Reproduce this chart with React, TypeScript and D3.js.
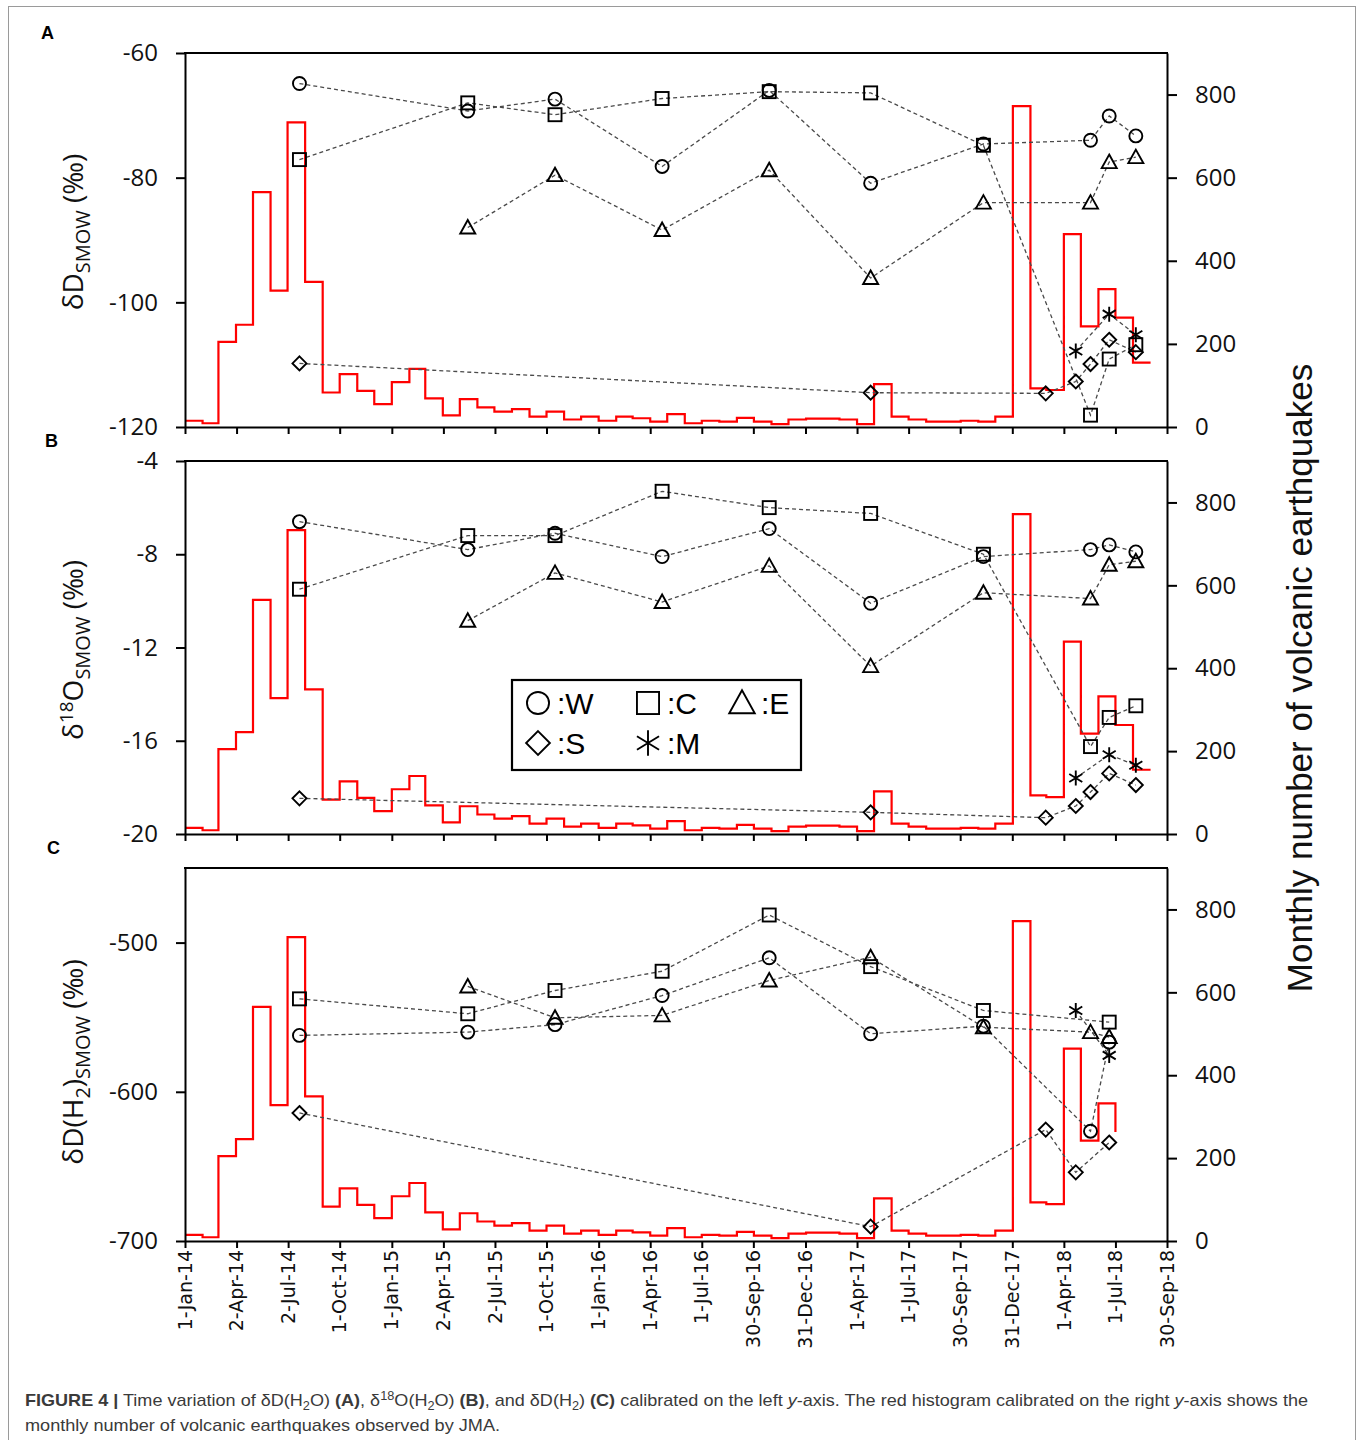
import React, { useRef, useEffect } from 'react';
import * as d3 from 'd3';

// monthly number of volcanic earthquakes (JMA), Jan 2014 .. Aug 2018
const quakeCounts = [
  15, 9, 205, 246, 565, 328, 733, 349, 83, 127, 87, 55,
  108, 140, 69, 28, 67, 47, 37, 43, 25, 37, 18, 25,
  15, 25, 21, 13, 31, 9, 15, 13, 22, 13, 7, 18,
  20, 20, 18, 7, 103, 25, 18, 13, 13, 15, 13, 25,
  772, 93, 89, 464, 242, 332, 263, 155,
];

const tickDates = [
  '2014-01-01', '2014-04-02', '2014-07-02', '2014-10-01', '2015-01-01', '2015-04-02', '2015-07-02',
  '2015-10-01', '2016-01-01', '2016-04-01', '2016-07-01', '2016-09-30', '2016-12-31', '2017-04-01',
  '2017-07-01', '2017-09-30', '2017-12-31', '2018-04-01', '2018-07-01', '2018-09-30',
];
const tickLabels = [
  '1-Jan-14', '2-Apr-14', '2-Jul-14', '1-Oct-14', '1-Jan-15', '2-Apr-15', '2-Jul-15',
  '1-Oct-15', '1-Jan-16', '1-Apr-16', '1-Jul-16', '30-Sep-16', '31-Dec-16', '1-Apr-17',
  '1-Jul-17', '30-Sep-17', '31-Dec-17', '1-Apr-18', '1-Jul-18', '30-Sep-18',
];

// sampling dates per site
const datesW = ['2014-07-22', '2015-05-15', '2015-10-16', '2016-04-22', '2016-10-28', '2017-04-25', '2017-11-10', '2018-05-18', '2018-06-20', '2018-08-06'];
const datesE = ['2015-05-15', '2015-10-16', '2016-04-22', '2016-10-28', '2017-04-25', '2017-11-10', '2018-05-18', '2018-06-20', '2018-08-06'];
const datesS = ['2014-07-22', '2017-04-25', '2018-02-28', '2018-04-22', '2018-05-18', '2018-06-20', '2018-08-06'];
const datesM = ['2018-04-22', '2018-06-20', '2018-08-06'];

// (A) dD(H2O)
const dDW = [-64.9, -69.3, -67.4, -78.2, -66.0, -80.9, -74.6, -74.0, -70.1, -73.3];
const dDC = [-77.1, -68.0, -69.9, -67.3, -66.2, -66.4, -74.8, -118.1, -109.1, -106.8];
const dDE = [-88.0, -79.6, -88.4, -78.8, -96.1, -84.0, -84.0, -77.5, -76.7];
const dDS = [-109.8, -114.5, -114.6, -112.7, -109.9, -106.0, -108.0];
const dDM = [-107.8, -101.9, -105.2];

// (B) d18O(H2O)
const d18W = [-6.6, -7.8, -7.1, -8.1, -6.9, -10.1, -8.1, -7.8, -7.6, -7.9];
const d18C = [-9.5, -7.2, -7.2, -5.3, -6.0, -6.25, -8.0, -16.25, -15.0, -14.5];
const d18E = [-10.85, -8.8, -10.05, -8.5, -12.8, -9.65, -9.9, -8.45, -8.3];
const d18S = [-18.47, -19.07, -19.3, -18.8, -18.2, -17.4, -17.9];
const d18M = [-17.6, -16.6, -17.05];

// (C) dD(H2)
const h2DatesW = ['2014-07-22', '2015-05-15', '2015-10-16', '2016-04-22', '2016-10-28', '2017-04-25', '2017-11-10', '2018-05-18', '2018-06-20'];
const h2DatesC = ['2014-07-22', '2015-05-15', '2015-10-16', '2016-04-22', '2016-10-28', '2017-04-25', '2017-11-10', '2018-06-20'];
const h2DatesE = ['2015-05-15', '2015-10-16', '2016-04-22', '2016-10-28', '2017-04-25', '2017-11-10', '2018-05-18', '2018-06-20'];
const h2DatesS = ['2014-07-22', '2017-04-25', '2018-02-28', '2018-04-22', '2018-06-20'];
const h2DatesM = ['2018-04-22', '2018-06-20'];
const dH2W = [-562.2, -560.0, -555.0, -535.5, -510.2, -561.1, -556.0, -626.4, -566.7];
const dH2C = [-537.7, -547.7, -532.1, -519.2, -481.5, -516.1, -545.5, -553.3];
const dH2E = [-529.4, -550.4, -548.8, -525.4, -509.8, -556.7, -560.0, -563.3];
const dH2S = [-614.2, -690.4, -625.3, -654.0, -634.0];
const dH2M = [-545.5, -575.6];

const parse = d3.utcParse('%Y-%m-%d');
const FONT = '"Open Sans", sans-serif';
const ARIAL = '"Liberation Sans", Arial, sans-serif';

function drawMarker(g, shape, x, y, s = 1) {
  const m = g.append('g').attr('transform', `translate(${x},${y}) scale(${s})`)
    .attr('fill', 'none').attr('stroke', '#000').attr('stroke-width', 1.9 / s);
  if (shape === 'circle') m.append('circle').attr('r', 6.5);
  if (shape === 'square') m.append('rect').attr('x', -6.5).attr('y', -6.5).attr('width', 13).attr('height', 13);
  if (shape === 'triangle') m.append('path').attr('d', 'M0,-7.5L7.5,6L-7.5,6Z');
  if (shape === 'diamond') m.append('path').attr('d', 'M0,-7L7,0L0,7L-7,0Z');
  if (shape === 'star') m.append('path').attr('d', 'M0,-7.5V7.5M-6.5,-4L6.5,4M-6.5,4L6.5,-4');
}

// text with sub/superscript pieces: [string, {shift, size, bold, italic}]
function richText(sel, parts) {
  let cur = 0;
  parts.forEach(([t, o = {}]) => {
    const shift = o.shift || 0;
    const ts = sel.append('tspan').text(t).attr('dy', shift - cur);
    cur = shift;
    if (o.size) ts.attr('font-size', o.size);
    if (o.bold) ts.attr('font-weight', 'bold');
    if (o.italic) ts.attr('font-style', 'italic');
  });
}

export default function App() {
  const ref = useRef(null);

  useEffect(() => {
    const svg = d3.select(ref.current);
    svg.selectAll('*').remove();

    const x = d3.scaleUtc().domain([parse('2014-01-01'), parse('2018-09-30')]).range([185, 1167]);
    const months = d3.utcMonths(parse('2014-01-01'), parse('2018-09-01'));
    const quakes = months.map((m, i) => ({ date: m, v: quakeCounts[i] }));
    const lastMonth = { date: parse('2018-09-01'), v: quakeCounts[quakeCounts.length - 1] };

    const panels = [
      {
        key: 'A', top: 53, bottom: 427, domain: [-120, -60], ticks: [-120, -100, -80, -60], titleY: 232,
        title: [['δD'], ['SMOW', { shift: 7, size: 20 }], [' (‰)']],
        hist: [...quakes, lastMonth],
        series: [
          { shape: 'circle', dates: datesW, values: dDW },
          { shape: 'square', dates: datesW, values: dDC },
          { shape: 'triangle', dates: datesE, values: dDE },
          { shape: 'diamond', dates: datesS, values: dDS },
          { shape: 'star', dates: datesM, values: dDM },
        ],
      },
      {
        key: 'B', top: 461, bottom: 834, domain: [-20, -4], ticks: [-20, -16, -12, -8, -4], titleY: 650,
        title: [['δ'], ['18', { shift: -10, size: 19 }], ['O'], ['SMOW', { shift: 7, size: 20 }], [' (‰)']],
        hist: [...quakes, lastMonth],
        series: [
          { shape: 'circle', dates: datesW, values: d18W },
          { shape: 'square', dates: datesW, values: d18C },
          { shape: 'triangle', dates: datesE, values: d18E },
          { shape: 'diamond', dates: datesS, values: d18S },
          { shape: 'star', dates: datesM, values: d18M },
        ],
      },
      {
        key: 'C', top: 868, bottom: 1241, domain: [-700, -450], ticks: [-700, -600, -500], titleY: 1062,
        title: [['δD(H'], ['2', { shift: 7, size: 20 }], [')'], ['SMOW', { shift: 7, size: 20 }], [' (‰)']],
        hist: quakes.slice(0, 55),
        series: [
          { shape: 'circle', dates: h2DatesW, values: dH2W },
          { shape: 'square', dates: h2DatesC, values: dH2C },
          { shape: 'triangle', dates: h2DatesE, values: dH2E },
          { shape: 'diamond', dates: h2DatesS, values: dH2S },
          { shape: 'star', dates: h2DatesM, values: dH2M },
        ],
      },
    ];

    // figure frame
    svg.append('rect').attr('x', 8.5).attr('y', 6.5).attr('width', 1347).attr('height', 1450)
      .attr('fill', 'none').attr('stroke', '#9a9a9a').attr('stroke-width', 1);

    panels.forEach((p) => {
      const g = svg.append('g');
      const y = d3.scaleLinear().domain(p.domain).range([p.bottom, p.top]);
      const yR = d3.scaleLinear().domain([0, 900]).range([p.bottom, p.top]);

      // histogram
      const step = d3.line().x((d) => x(d.date)).y((d) => yR(d.v)).curve(d3.curveStepAfter);
      g.append('path').attr('d', step(p.hist)).attr('fill', 'none')
        .attr('stroke', '#ff0000').attr('stroke-width', 2.2);

      // sample series
      const line = d3.line().x((d) => x(parse(d[0]))).y((d) => y(d[1]));
      p.series.forEach((s) => {
        const pts = s.dates.map((d, i) => [d, s.values[i]]);
        g.append('path').attr('d', line(pts)).attr('fill', 'none')
          .attr('stroke', '#4a4a4a').attr('stroke-width', 1.3).attr('stroke-dasharray', '4 3');
      });
      p.series.forEach((s) => {
        s.dates.forEach((d, i) => drawMarker(g, s.shape, x(parse(d)), y(s.values[i])));
      });

      // axes
      const left = g.append('g').attr('transform', `translate(185,0)`)
        .call(d3.axisLeft(y).tickValues(p.ticks).tickSize(9).tickPadding(18).tickSizeOuter(0)
          .tickFormat((d) => String(d)));
      const right = g.append('g').attr('transform', `translate(1167,0)`)
        .call(d3.axisRight(yR).tickValues([0, 200, 400, 600, 800]).tickSize(10).tickPadding(18).tickSizeOuter(0)
          .tickFormat((d) => String(d)));
      const bottom = g.append('g').attr('transform', `translate(0,${p.bottom})`)
        .call(d3.axisBottom(x).tickValues(tickDates.map(parse)).tickSize(7).tickSizeOuter(0).tickFormat(() => ''));
      g.append('line').attr('x1', 184).attr('x2', 1168).attr('y1', p.top).attr('y2', p.top)
        .attr('stroke', '#000').attr('stroke-width', 2);
      [left, right, bottom].forEach((a) => {
        a.selectAll('path, line').attr('stroke', '#000').attr('stroke-width', 2);
        a.selectAll('text').attr('font-family', FONT).attr('font-size', 24).attr('fill', '#111');
      });

      // panel letter
      svg.append('text').attr('x', p.key === 'A' ? 41 : p.key === 'B' ? 45 : 47).attr('y', p.top - 14)
        .attr('font-family', ARIAL).attr('font-weight', 'bold')
        .attr('font-size', 18).text(p.key);

      // left title
      const t = svg.append('text').attr('transform', `translate(83,${p.titleY}) rotate(-90)`)
        .attr('text-anchor', 'middle').attr('font-family', FONT).attr('font-size', 28).attr('fill', '#111');
      richText(t, p.title);

      if (p.key === 'C') {
        tickDates.forEach((d, i) => {
          svg.append('text').attr('transform', `translate(${x(parse(d))},1250) rotate(-90)`)
            .attr('text-anchor', 'end').attr('dy', '0.35em')
            .attr('font-family', '"DejaVu Sans", Verdana, sans-serif').attr('font-size', 19)
            .attr('fill', '#111').text(tickLabels[i]);
        });
      }

      if (p.key === 'B') {
        const lg = svg.append('g');
        lg.append('rect').attr('x', 512).attr('y', 680).attr('width', 289).attr('height', 90)
          .attr('fill', '#fff').attr('stroke', '#000').attr('stroke-width', 2.2);
        const items = [
          ['circle', ':W', 538, 703], ['square', ':C', 648, 703], ['triangle', ':E', 742, 703],
          ['diamond', ':S', 538, 743], ['star', ':M', 648, 743],
        ];
        items.forEach(([shape, label, lx, ly]) => {
          drawMarker(lg, shape, lx, ly, 1.7);
          lg.append('text').attr('x', lx + 19).attr('y', ly + 11)
            .attr('font-family', ARIAL).attr('font-size', 30).text(label);
        });
      }
    });

    // right title
    svg.append('text').attr('transform', 'translate(1312,678) rotate(-90)')
      .attr('text-anchor', 'middle').attr('font-family', ARIAL)
      .attr('font-size', 35).attr('fill', '#111').text('Monthly number of volcanic earthquakes');

    // caption
    const sub = { shift: 4, size: 12 };
    const sup = { shift: -6, size: 12 };
    const c1 = svg.append('text').attr('x', 25).attr('y', 1406).attr('font-family', ARIAL)
      .attr('font-size', 17).attr('fill', '#3a3a3a').attr('textLength', 1283).attr('lengthAdjust', 'spacingAndGlyphs');
    richText(c1, [
      ['FIGURE 4 |', { bold: true }], [' Time variation of δD(H'], ['2', sub], ['O) '], ['(A)', { bold: true }],
      [', δ'], ['18', sup], ['O(H'], ['2', sub], ['O) '], ['(B)', { bold: true }], [', and δD(H'], ['2', sub],
      [') '], ['(C)', { bold: true }], [' calibrated on the left '], ['y', { italic: true }],
      ['-axis. The red histogram calibrated on the right '], ['y', { italic: true }], ['-axis shows the'],
    ]);
    svg.append('text').attr('x', 25).attr('y', 1431).attr('font-family', ARIAL)
      .attr('font-size', 17).attr('fill', '#3a3a3a').attr('textLength', 475).attr('lengthAdjust', 'spacingAndGlyphs')
      .text('monthly number of volcanic earthquakes observed by JMA.');
  }, []);

  return (
    <svg ref={ref} width={1360} height={1440}
      style={{ position: 'absolute', left: 0, top: 0, background: '#fff' }} />
  );
}
